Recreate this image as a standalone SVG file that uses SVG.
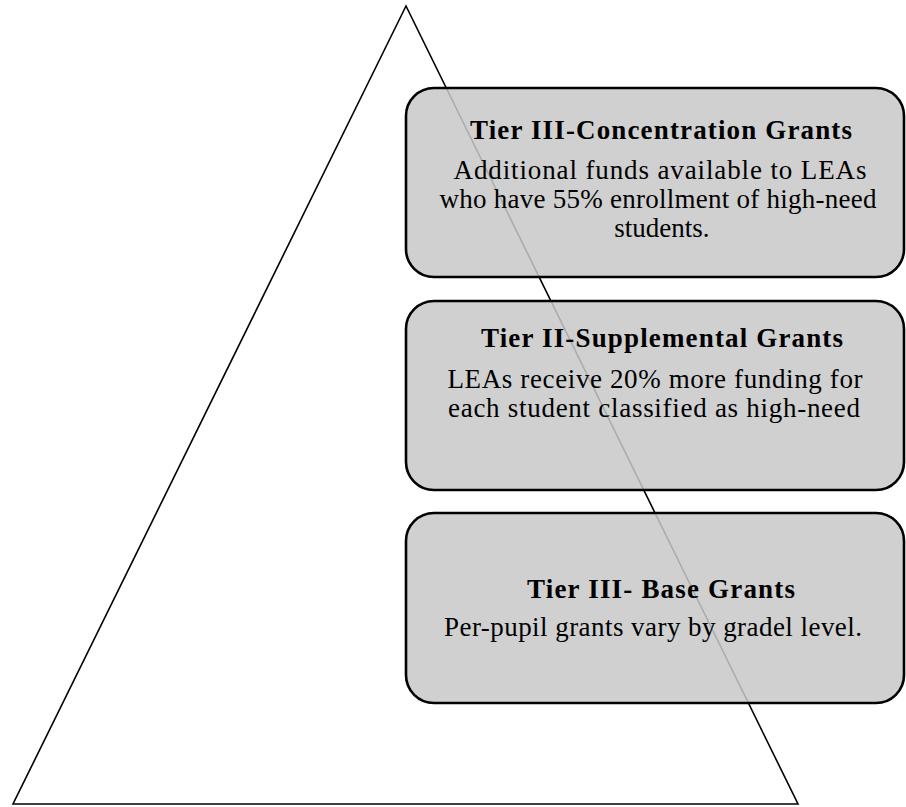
<svg xmlns="http://www.w3.org/2000/svg" width="906" height="807" viewBox="0 0 906 807">
<style>
.tri{fill:none;stroke:#000;stroke-width:1.6;stroke-linejoin:miter}
.box{fill:#c8c8c8;fill-opacity:0.86;stroke:#000;stroke-width:2.6}
text{font-family:'Liberation Serif',Tinos,'Times New Roman',Times,serif;font-size:27px;fill:#000;text-anchor:middle}
.t{font-weight:bold}
</style>
<rect width="906" height="807" fill="#fff"/>
<g id="pyramid">
<polygon class="tri" points="406,6 13,804 798,804"/>
</g>
<g id="tier3-concentration">
<rect class="box" x="406" y="88" width="498" height="189" rx="28" ry="28"/>
<text class="t" x="661" y="139" textLength="382" lengthAdjust="spacing">Tier III-Concentration Grants</text>
<text class="b" x="660" y="179" textLength="413" lengthAdjust="spacing">Additional funds available to LEAs</text>
<text class="b" x="658" y="208" textLength="437" lengthAdjust="spacing">who have 55% enrollment of high-need</text>
<text class="b" x="662" y="237">students.</text>
</g>
<g id="tier2-supplemental">
<rect class="box" x="406" y="301" width="498" height="189" rx="28" ry="28"/>
<text class="t" x="662" y="347" textLength="362" lengthAdjust="spacing">Tier II-Supplemental Grants</text>
<text class="b" x="655" y="388" textLength="415" lengthAdjust="spacing">LEAs receive 20% more funding for</text>
<text class="b" x="654" y="417" textLength="412" lengthAdjust="spacing">each student classified as high-need</text>
</g>
<g id="tier1-base">
<rect class="box" x="406" y="513" width="498" height="190" rx="28" ry="28"/>
<text class="t" x="661" y="598" textLength="268" lengthAdjust="spacing">Tier III- Base Grants</text>
<text class="b" x="653" y="636" textLength="418" lengthAdjust="spacing">Per-pupil grants vary by gradel level.</text>
</g>
<g id="connectors"></g>
</svg>
